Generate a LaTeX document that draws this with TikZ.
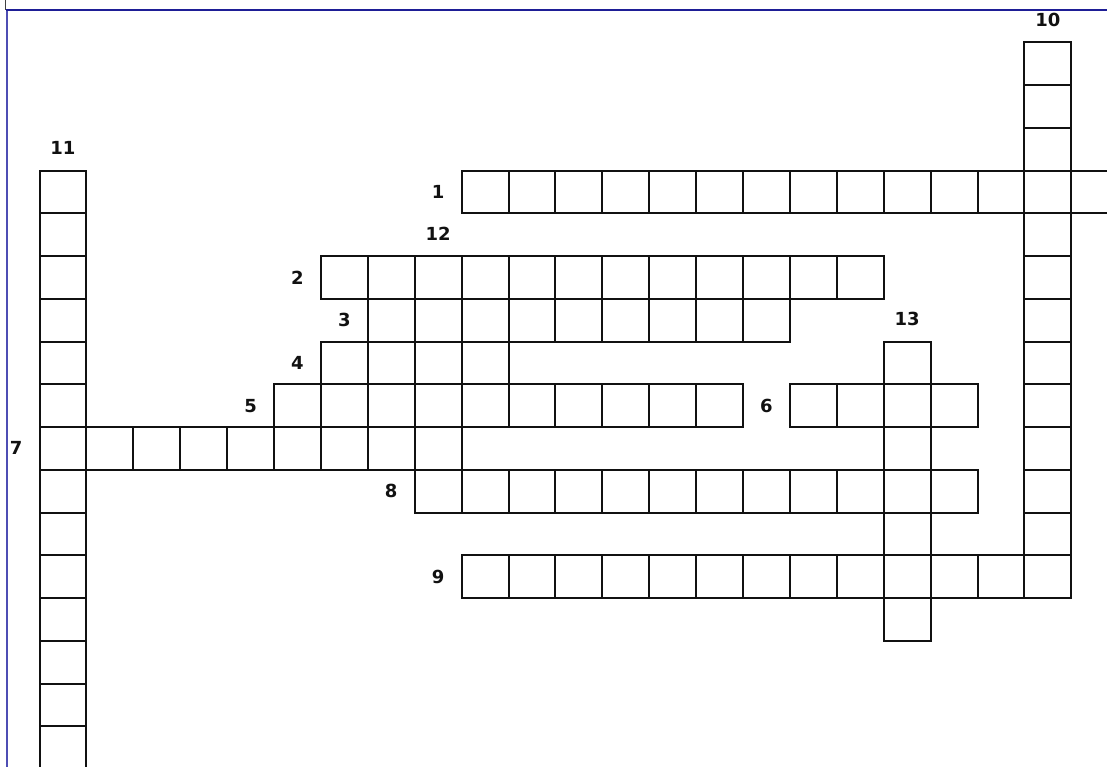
\documentclass[tikz,border=0pt]{standalone}
\usepackage{fontspec}
\setmainfont{DejaVu Sans}
\usepackage{tikz}
\definecolor{Ink}{HTML}{111111}
\definecolor{FrameTop}{HTML}{1E1E96}
\definecolor{FrameSide}{HTML}{4E4EB4}

\begin{document}
\begin{tikzpicture}[x=1pt,y=-1pt,
    cell/.style={draw=Ink,line width=2pt,minimum width=46.9pt,minimum height=42.75pt,
                 inner sep=0pt,outer sep=0pt},
    num/.style={font=\fontsize{18}{18}\selectfont\bfseries,text=Ink,inner sep=0pt}]
  \useasboundingbox (0,0) rectangle (1107,767);

  \draw[Ink!80, line width=0.8pt] (5.8,0) -- (5.8,10);
  \draw[FrameSide, line width=2pt] (6.7,10) -- (6.7,767);
  \draw[FrameTop, line width=1.5pt] (6,10) -- (1107,10);

  \begin{scope}[shift={(39.5,42.3)}, x=46.9pt, y=-42.75pt]
    \foreach \w/\r/\a/\b in {1/3/9/22,2/5/6/17,3/6/7/15,4/7/6/9,5/8/5/14,
                             6/8/16/19,7/9/0/8,8/10/8/19,9/12/9/21} {
      \foreach \c in {\a,...,\b}
        \node[cell] (h\w-\c) at (\c+0.5, \r+0.5) {};
      \node[num] (n\w) at (\a-0.5, \r+0.5) {\w};
    }

    \foreach \w/\c/\a/\b in {10/21/0/12,11/0/3/16,12/8/5/10,13/18/7/13} {
      \foreach \r in {\a,...,\b}
        \node[cell] (v\w-\r) at (\c+0.5, \r+0.5) {};
      \node[num] (n\w) at (\c+0.5, \a-0.52) {\w};
    }
  \end{scope}
\end{tikzpicture}
\end{document}
